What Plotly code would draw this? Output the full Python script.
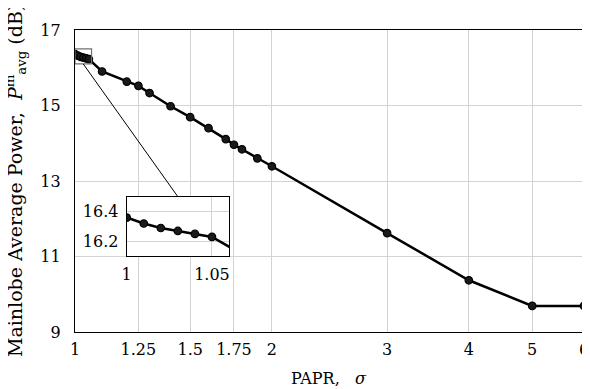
import math
import plotly.graph_objects as go

# Data
papr = [1.0, 1.01, 1.02, 1.03, 1.04, 1.05, 1.1, 1.2, 1.25, 1.3, 1.4, 1.5, 1.6,
        1.7, 1.75, 1.8, 1.9, 2.0, 3.0, 4.0, 5.0, 6.0]
power = [16.36, 16.32, 16.29, 16.27, 16.25, 16.23, 15.90, 15.63, 15.52, 15.33,
         14.98, 14.69, 14.40, 14.11, 13.96, 13.84, 13.60, 13.39, 11.62, 10.37,
         9.69, 9.69]

x_ticks = [1, 1.25, 1.5, 1.75, 2, 3, 4, 5, 6]
x_tick_text = ["1", "1.25", "1.5", "1.75", "2", "3", "4", "5", "6"]
y_ticks = [9, 11, 13, 15, 17]

inset_x_range = [1.0, 1.06]
inset_y_range = [16.1, 16.5]
inset_x_ticks = [1, 1.05]
inset_x_text = ["1", "1.05"]
inset_y_ticks = [16.2, 16.4]
inset_y_text = ["16.2", "16.4"]

main_x_range = [1, 6]
main_y_range = [9, 17]

x_title = "PAPR,\u00a0\u00a0\u00a0<i>σ</i>"
y_title = ("Mainlobe Average Power,\u00a0\u00a0<i>P</i><sup>m</sup>"
           "<sub>avg</sub>\u00a0(dB)")

FONT = "DejaVu Serif"
FS = 16
FS_YT = 19
GRID = "#d3d3d3"

# page has an 8px body margin -> figure is 582x381
W, H = 582, 381
ML, MR, MT, MB = 67, 6, 22, 57
PW = W - ML - MR
PH = H - MT - MB

inset_dom_x = [0.1016, 0.3026]
inset_dom_y = [0.2507, 0.448]

fig = go.Figure()

line_style = dict(color="black", width=2.5)
marker_style = dict(symbol="circle", size=7.5, color="#1a1a1a",
                    line=dict(color="black", width=1.2))

fig.add_trace(go.Scatter(x=papr, y=power, mode="lines+markers",
                         line=line_style, marker=marker_style,
                         xaxis="x", yaxis="y", showlegend=False))
fig.add_trace(go.Scatter(x=papr, y=power, mode="lines+markers",
                         line=line_style, marker=marker_style,
                         xaxis="x2", yaxis="y2", showlegend=False))

# zoom rectangle on main axes
fig.add_shape(type="rect", xref="x", yref="y",
              x0=inset_x_range[0], x1=inset_x_range[1],
              y0=inset_y_range[0], y1=inset_y_range[1],
              line=dict(color="#707070", width=1.2), layer="above")

# connector line from rectangle bottom-centre to inset top-centre (paper coords)
lx = math.log10(main_x_range[1]) - math.log10(main_x_range[0])
xc = (math.log10(math.sqrt(inset_x_range[0] * inset_x_range[1]))) / lx
yb = (inset_y_range[0] - main_y_range[0]) / (main_y_range[1] - main_y_range[0])
fig.add_shape(type="line", xref="paper", yref="paper",
              x0=xc, y0=yb,
              x1=(inset_dom_x[0] + inset_dom_x[1]) / 2, y1=inset_dom_y[1],
              line=dict(color="black", width=1), layer="above")

# axis titles as annotations for exact placement
fig.add_annotation(text=x_title, xref="paper", yref="paper",
                   x=(321 - ML) / PW, y=-(370 - (MT + PH)) / PH,
                   xanchor="center", yanchor="middle", showarrow=False,
                   font=dict(family=FONT, size=FS, color="black"))
fig.add_annotation(text=y_title, xref="paper", yref="paper",
                   x=(7 - ML) / PW, y=0.5, textangle=-90,
                   xanchor="center", yanchor="middle", showarrow=False,
                   font=dict(family=FONT, size=FS_YT, color="black"))

axis_common = dict(showgrid=True, gridcolor=GRID, gridwidth=1,
                   showline=True, linecolor="black", linewidth=1.2, mirror=True,
                   ticks="", zeroline=False, automargin=False,
                   ticklabeloverflow="allow")

fig.update_layout(
    width=W, height=H,
    margin=dict(l=ML, r=MR, t=MT, b=MB),
    paper_bgcolor="white", plot_bgcolor="white",
    font=dict(family=FONT, size=FS, color="black"),
    xaxis=dict(type="log", range=[math.log10(main_x_range[0]), math.log10(main_x_range[1])],
               tickvals=x_ticks, ticktext=x_tick_text, ticklabelstandoff=3,
               **axis_common),
    yaxis=dict(range=main_y_range, tickvals=y_ticks, ticklabelstandoff=10,
               **axis_common),
    xaxis2=dict(domain=inset_dom_x, anchor="y2", range=inset_x_range,
                tickvals=inset_x_ticks, ticktext=inset_x_text,
                ticklabelstandoff=3, **axis_common),
    yaxis2=dict(domain=inset_dom_y, anchor="x2", range=inset_y_range,
                tickvals=inset_y_ticks, ticktext=inset_y_text,
                ticklabelstandoff=4, **axis_common),
)

fig.write_html("out.html")
